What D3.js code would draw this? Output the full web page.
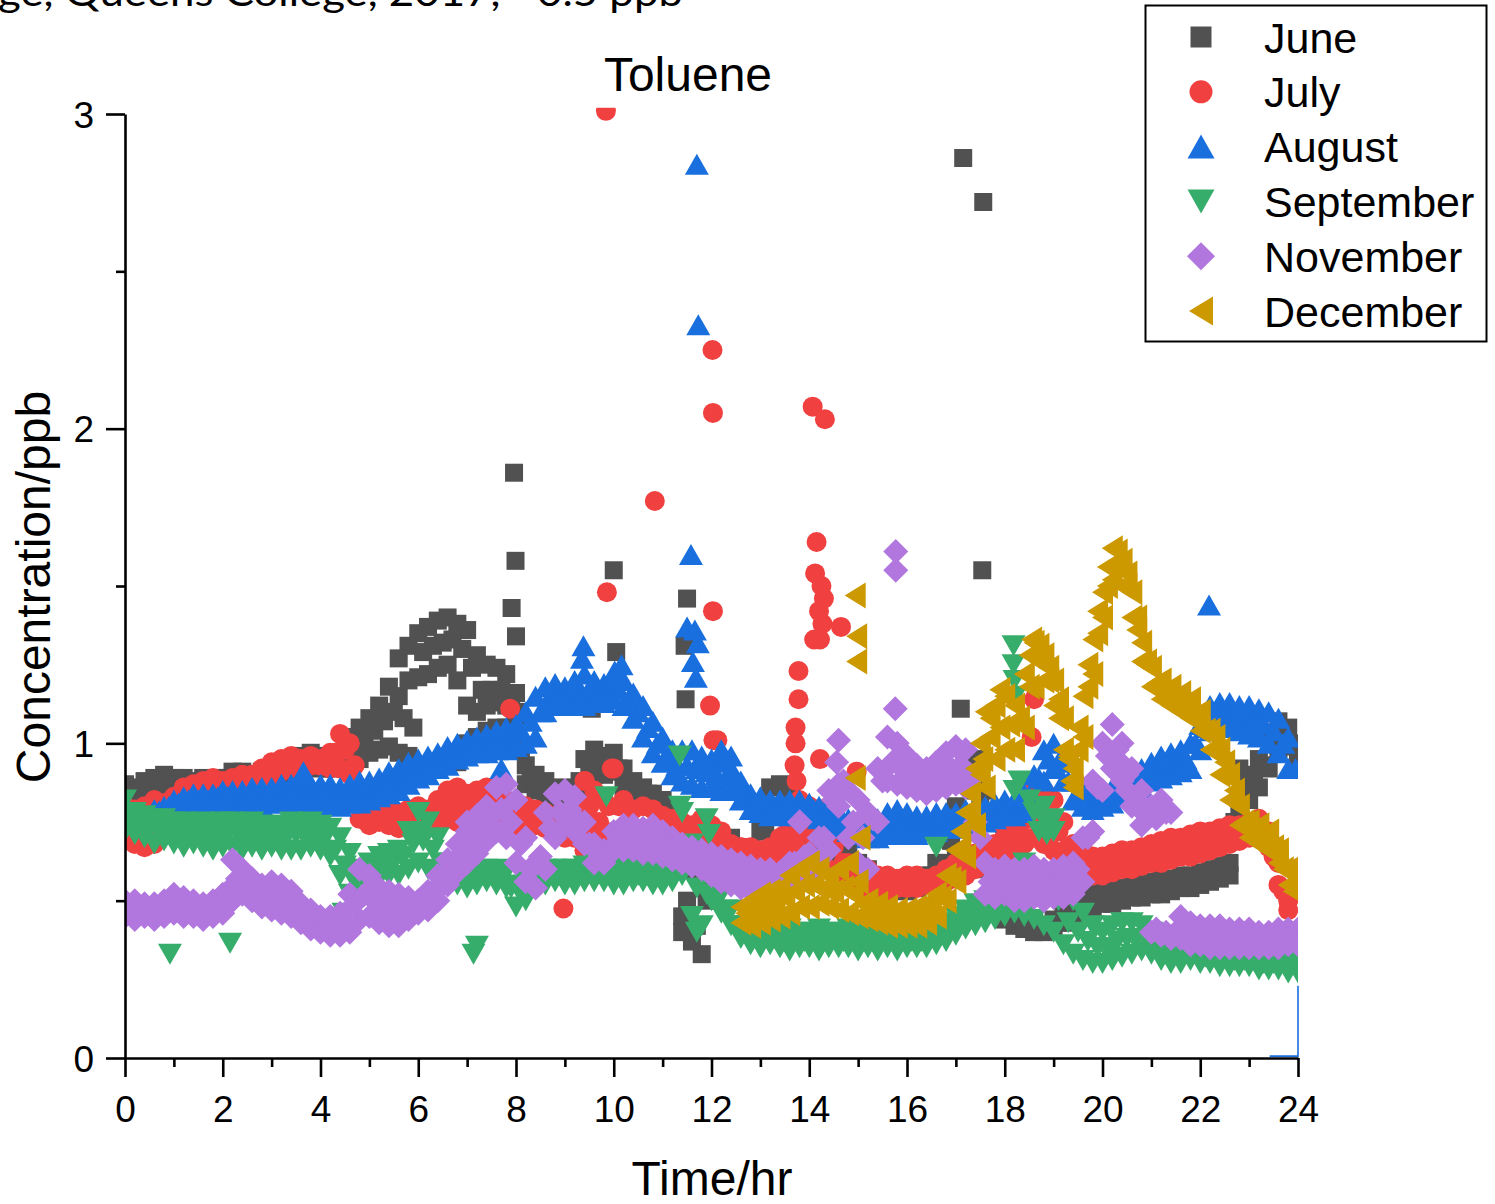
<!DOCTYPE html>
<html>
<head>
<meta charset="utf-8">
<script src="https://cdn.jsdelivr.net/npm/d3@7"></script>
<style>
  html, body { margin: 0; padding: 0; background: #fff; }
  svg { display: block; font-family: "Liberation Sans", Arial, sans-serif; }
</style>
</head>
<body>
<svg id="chart" width="1495" height="1204"></svg>
<script>
// ---- Toluene diurnal profiles (ppb) by month ----
// Each strand: [first hour, readings every STEP hours]
const STEP = 0.2;

const months = ["June", "July", "August", "September", "November", "December"];
const monthColors = ["#515151", "#F14040", "#1A6FDF", "#37AD6B", "#B177DE", "#CC9900"];
const xTicks = [0, 2, 4, 6, 8, 10, 12, 14, 16, 18, 20, 22, 24];
const yTicks = [0, 1, 2, 3];

// ---------- June ----------
const juneUpper = [0, [
  0.87,0.86,0.88,0.89,0.90,0.89,0.89,0.88,0.89,0.88,
  0.89,0.91,0.91,0.90,0.91,0.92,0.93,0.94,0.96,0.97,
  0.96,0.95,0.97,1.02,1.05,1.08,1.12,1.18,1.27,1.31,
  1.35,1.37,1.39,1.40,1.38,1.36,1.28,1.25,1.24,1.22,
  1.16,0.93,0.90,0.88,0.86,0.85,0.86,0.95,0.98,0.96,
  0.97,0.92,0.88,0.86,0.84,0.82,0.80,0.70,0.60,0.58,
  0.62,0.68,0.70,0.66,0.67,0.72,0.86,0.87,0.83,0.80,
  0.78,0.75,0.72,0.70,0.66,0.62,0.60,0.57,0.56,0.56,
  0.55,0.57,0.58,0.62,0.70,0.80,0.88,0.95,0.85,0.55,
  0.48,0.46,0.44,0.43,0.42,0.44,0.46,0.48,0.50,0.53,
  0.53,0.54,0.54,0.55,0.56,0.56,0.57,0.57,0.58,0.58,
  0.59,0.60,0.61,0.62,0.92,0.90,0.95,1.02,1.07,1.05,
  0.98]];
const juneCentre = [0.1, [
  0.85,0.85,0.86,0.86,0.87,0.87,0.87,0.87,0.88,0.88,
  0.89,0.90,0.90,0.90,0.91,0.91,0.92,0.93,0.95,0.95,
  0.94,0.94,0.97,0.99,1.01,1.04,1.07,1.10,1.08,1.05,
  1.29,1.31,1.32,1.33,1.30,1.24,1.17,1.17,1.17,1.14,
  0.98,0.88,0.87,0.85,0.84,0.84,0.88,0.92,0.94,0.93,
  0.92,0.87,0.85,0.84,0.81,0.78,0.62,0.50,0.42,0.50,
  0.62,0.66,0.65,0.64,0.66,0.72,0.77,0.77,0.76,0.75,
  0.73,0.70,0.68,0.66,0.62,0.59,0.57,0.55,0.55,0.55,
  0.55,0.56,0.58,0.62,0.69,0.77,0.87,0.80,0.62,0.48,
  0.45,0.43,0.42,0.41,0.42,0.43,0.45,0.47,0.50,0.51,
  0.51,0.52,0.53,0.53,0.54,0.54,0.55,0.55,0.56,0.57,
  0.57,0.58,0.59,0.75,0.86,0.88,0.93,1.00,1.03,1.00]];
const juneLower = [0, [
  0.84,0.84,0.83,0.83,0.83,0.84,0.86,0.86,0.86,0.87,
  0.87,0.88,0.89,0.88,0.89,0.90,0.90,0.91,0.92,0.93,
  0.92,0.92,0.93,0.94,0.95,0.97,0.98,0.99,0.97,0.96,
  0.92,0.92,0.93,0.93,0.94,1.00,1.02,1.04,1.05,1.05,
  1.05,0.87,0.85,0.84,0.82,0.82,0.83,0.86,0.90,0.90,
  0.91,0.86,0.84,0.83,0.80,0.78,0.72,0.45,0.37,0.33,
  0.55,0.62,0.64,0.60,0.62,0.63,0.66,0.68,0.70,0.72,
  0.70,0.68,0.66,0.64,0.62,0.58,0.56,0.54,0.53,0.54,
  0.53,0.54,0.55,0.56,0.60,0.66,0.75,0.85,0.60,0.47,
  0.44,0.42,0.41,0.40,0.40,0.41,0.43,0.45,0.47,0.48,
  0.49,0.49,0.50,0.51,0.51,0.52,0.52,0.53,0.54,0.54,
  0.55,0.56,0.57,0.58,0.80,0.82,0.86,0.92,0.98,0.99,
  0.93]];
const juneHump = [5.6, [1.15,1.20,1.21,1.22,1.24,1.25,1.20,1.12,1.10,1.12,1.13,1.12,1.10]];
const juneSingles = [
  [7.91,1.43],[7.96,1.86],[7.99,1.58],[8.0,1.34],[9.55,1.11],[10.05,1.29],[10.0,1.55],
  [11.5,1.46],[11.45,1.31],[11.47,1.14],[17.15,2.86],[17.56,2.72],[17.54,1.55],[17.1,1.11],[11.4,0.40]];

// ---------- July ----------
const julyUpper = [0, [
  0.80,0.79,0.80,0.82,0.81,0.83,0.86,0.87,0.88,0.89,
  0.88,0.89,0.90,0.90,0.92,0.94,0.95,0.96,0.95,0.96,
  0.95,0.97,1.03,1.00,0.82,0.78,0.80,0.79,0.78,0.79,
  0.80,0.79,0.82,0.85,0.86,0.84,0.85,0.86,0.84,0.82,
  0.81,0.80,0.79,0.78,0.77,0.76,0.78,0.88,0.85,0.82,
  0.92,0.82,0.79,0.80,0.79,0.77,0.76,0.75,0.74,0.76,
  0.74,0.72,0.68,0.67,0.67,0.66,0.67,0.70,0.71,0.82,
  0.80,0.78,0.80,0.70,0.62,0.60,0.60,0.58,0.58,0.57,
  0.58,0.58,0.57,0.58,0.60,0.62,0.64,0.65,0.66,0.68,
  0.72,0.74,0.80,0.88,0.85,0.82,0.75,0.68,0.66,0.64,
  0.64,0.65,0.66,0.66,0.67,0.68,0.69,0.70,0.70,0.71,
  0.72,0.72,0.73,0.74,0.74,0.75,0.76,0.72,0.62,0.50]];
const julyCentre = [0.1, [
  0.74,0.74,0.74,0.76,0.78,0.82,0.85,0.86,0.87,0.87,
  0.87,0.88,0.88,0.89,0.91,0.92,0.93,0.94,0.94,0.94,
  0.94,0.97,0.98,0.93,0.77,0.77,0.77,0.76,0.76,0.77,
  0.77,0.78,0.80,0.81,0.80,0.80,0.81,0.80,0.79,0.78,
  0.77,0.77,0.76,0.75,0.74,0.73,0.76,0.76,0.75,0.80,
  0.80,0.74,0.72,0.72,0.72,0.72,0.72,0.72,0.71,0.70,
  0.68,0.66,0.65,0.64,0.64,0.64,0.66,0.68,0.70,0.72,
  0.70,0.70,0.67,0.62,0.58,0.57,0.56,0.56,0.55,0.56,
  0.56,0.56,0.56,0.57,0.59,0.60,0.62,0.63,0.65,0.67,
  0.69,0.72,0.76,0.78,0.75,0.72,0.67,0.64,0.62,0.61,
  0.61,0.62,0.63,0.63,0.64,0.65,0.66,0.67,0.67,0.68,
  0.69,0.70,0.71,0.71,0.72,0.73,0.72,0.64,0.53]];
const julyLower = [0, [
  0.70,0.68,0.67,0.68,0.72,0.78,0.82,0.84,0.85,0.86,
  0.86,0.86,0.87,0.87,0.88,0.90,0.91,0.92,0.92,0.93,
  0.93,0.92,0.92,0.90,0.76,0.74,0.75,0.74,0.73,0.74,
  0.74,0.74,0.75,0.76,0.75,0.76,0.77,0.76,0.75,0.74,
  0.73,0.74,0.74,0.73,0.72,0.70,0.70,0.66,0.64,0.70,
  0.72,0.68,0.66,0.65,0.66,0.68,0.69,0.70,0.70,0.66,
  0.65,0.62,0.62,0.62,0.62,0.61,0.62,0.65,0.66,0.66,
  0.64,0.62,0.60,0.58,0.56,0.55,0.54,0.54,0.53,0.54,
  0.54,0.54,0.55,0.55,0.56,0.57,0.58,0.60,0.61,0.63,
  0.65,0.66,0.68,0.70,0.68,0.66,0.64,0.62,0.60,0.58,
  0.58,0.59,0.60,0.60,0.61,0.62,0.62,0.63,0.64,0.64,
  0.65,0.66,0.67,0.68,0.69,0.70,0.70,0.67,0.55,0.47]];
const julySingles = [
  [9.84,3.01],[12.02,2.25],[12.03,2.05],[10.84,1.77],[9.86,1.48],[12.03,1.42],[11.97,1.12],
  [12.04,1.01],[12.12,1.01],[7.88,1.11],[8.97,0.475],[14.07,2.07],[14.32,2.03],[14.15,1.64],
  [14.12,1.54],[14.25,1.50],[14.3,1.46],[14.2,1.42],[14.27,1.38],[14.1,1.33],[14.22,1.33],
  [14.65,1.37],[13.78,1.23],[13.78,1.14],[13.72,1.05],[13.72,1.00],[13.7,0.93],[13.74,0.88],
  [14.22,0.95],[14.97,0.91],[9.41,0.88],[9.96,0.92],[9.5,0.80],[9.62,0.72],[9.31,0.71],
  [10.2,0.71],[12.08,0.72],[12.12,0.65],[18.6,1.14],[18.55,1.02],[12.6,0.67],[13.5,0.71]];

// ---------- August ----------
const augUpper = [0.6, [
  0.79,0.80,0.82,0.83,0.84,0.84,0.84,0.85,0.85,0.85,
  0.86,0.86,0.86,0.87,0.87,0.88,0.87,0.87,0.87,0.86,
  0.87,0.88,0.88,0.89,0.91,0.92,0.94,0.95,0.96,0.97,
  0.99,1.00,1.01,1.02,1.03,1.04,1.05,1.06,1.10,1.15,
  1.18,1.19,1.18,1.20,1.22,1.20,1.19,1.21,1.20,1.16,
  1.12,1.07,1.02,0.98,0.98,0.98,0.96,0.95,0.94,0.92,
  0.88,0.84,0.83,0.82,0.82,0.82,0.82,0.81,0.80,0.80,
  0.78,0.76,0.75,0.74,0.76,0.78,0.79,0.78,0.77,0.77,
  0.78,0.78,0.78,0.79,0.80,0.80,0.81,0.82,0.82,0.84,
  0.90,0.98,1.00,0.96,0.88,0.86,0.85,0.85,0.86,0.88,
  0.90,0.92,0.94,0.96,0.97,0.98,1.00,1.06,1.12,1.13,
  1.13,1.12,1.12,1.11,1.10,1.08,1.02]];
const augCentre = [0.7, [
  0.785,0.80,0.81,0.82,0.82,0.82,0.83,0.83,0.82,0.83,
  0.83,0.83,0.84,0.84,0.84,0.84,0.84,0.84,0.83,0.84,
  0.84,0.85,0.85,0.87,0.88,0.90,0.91,0.93,0.94,0.95,
  0.97,0.98,0.99,1.00,1.00,1.01,1.02,1.04,1.07,1.10,
  1.15,1.16,1.16,1.16,1.17,1.16,1.17,1.17,1.14,1.10,
  1.05,1.00,0.96,0.93,0.93,0.92,0.91,0.90,0.89,0.87,
  0.83,0.81,0.80,0.80,0.80,0.79,0.79,0.79,0.78,0.76,
  0.75,0.74,0.72,0.73,0.74,0.75,0.75,0.74,0.74,0.75,
  0.75,0.76,0.76,0.77,0.77,0.78,0.79,0.79,0.80,0.83,
  0.89,0.95,0.94,0.88,0.84,0.82,0.82,0.83,0.84,0.86,
  0.88,0.90,0.92,0.93,0.94,0.95,1.00,1.05,1.08,1.09,
  1.09,1.08,1.07,1.06,1.04,1.00]];
const augLower = [0.6, [
  0.77,0.78,0.79,0.80,0.80,0.80,0.81,0.81,0.80,0.80,
  0.81,0.80,0.81,0.81,0.80,0.81,0.81,0.80,0.81,0.80,
  0.81,0.81,0.82,0.83,0.84,0.85,0.87,0.89,0.90,0.92,
  0.93,0.95,0.96,0.97,0.97,0.98,0.98,0.99,1.00,1.02,
  1.10,1.12,1.13,1.12,1.12,1.13,1.13,1.14,1.12,1.08,
  1.02,0.97,0.94,0.90,0.88,0.87,0.86,0.86,0.85,0.85,
  0.82,0.79,0.78,0.77,0.78,0.77,0.77,0.77,0.76,0.75,
  0.73,0.72,0.71,0.70,0.70,0.71,0.72,0.71,0.71,0.72,
  0.72,0.73,0.73,0.74,0.74,0.75,0.76,0.77,0.77,0.78,
  0.80,0.88,0.92,0.88,0.82,0.80,0.79,0.80,0.81,0.83,
  0.85,0.86,0.88,0.89,0.90,0.91,0.92,0.98,1.04,1.05,
  1.05,1.04,1.03,1.02,1.00,0.97,0.92]];
const augSingles = [
  [11.70,2.84],[11.73,2.33],[11.58,1.60],[22.18,1.44],[11.5,1.37],[11.66,1.36],[11.72,1.32],
  [11.62,1.26],[11.68,1.21],[3.65,0.91],[7.7,0.92],[9.38,1.31],[9.35,1.27],[10.16,1.25],
  [10.02,1.23],[23.95,0.92],[12.2,0.98],[12.4,0.96]];
// stray trace segment logged at the end of the day
const augTail = [[23.42, 0.006], [24, 0.006], [24, 0.23]];

// ---------- September ----------
const sepUpper = [0, [
  0.82,0.78,0.77,0.76,0.76,0.75,0.75,0.74,0.75,0.74,
  0.75,0.75,0.74,0.75,0.74,0.74,0.74,0.75,0.74,0.75,
  0.74,0.73,0.70,0.65,0.60,0.62,0.64,0.65,0.66,0.72,
  0.78,0.75,0.70,0.62,0.60,0.59,0.59,0.60,0.60,0.59,
  0.55,0.56,0.59,0.60,0.60,0.60,0.60,0.61,0.62,0.62,
  0.61,0.60,0.61,0.61,0.60,0.60,0.62,0.78,0.68,0.60,
  0.56,0.52,0.47,0.42,0.42,0.41,0.41,0.40,0.41,0.40,
  0.40,0.41,0.40,0.40,0.41,0.40,0.40,0.39,0.39,0.39,
  0.40,0.39,0.40,0.41,0.43,0.45,0.47,0.49,0.50,0.50,
  0.52,0.85,0.62,0.78,0.80,0.72,0.58,0.50,0.46,0.42,
  0.40,0.42,0.43,0.43,0.42,0.40,0.37,0.36,0.35,0.35,
  0.35,0.34,0.34,0.34,0.34,0.33,0.33,0.33,0.33,0.33,
  0.32]];
const sepCentre = [0.1, [
  0.76,0.74,0.73,0.72,0.72,0.71,0.71,0.71,0.71,0.70,
  0.71,0.71,0.70,0.71,0.70,0.70,0.70,0.71,0.70,0.71,
  0.70,0.66,0.61,0.56,0.56,0.59,0.61,0.62,0.64,0.68,
  0.69,0.66,0.62,0.58,0.57,0.57,0.58,0.58,0.57,0.54,
  0.52,0.55,0.57,0.58,0.58,0.58,0.58,0.59,0.59,0.59,
  0.58,0.58,0.58,0.58,0.58,0.58,0.64,0.62,0.54,0.52,
  0.51,0.47,0.42,0.40,0.38,0.38,0.38,0.37,0.38,0.37,
  0.38,0.37,0.38,0.37,0.38,0.37,0.37,0.37,0.37,0.37,
  0.37,0.37,0.38,0.39,0.41,0.43,0.45,0.46,0.47,0.48,
  0.49,0.55,0.52,0.72,0.74,0.50,0.43,0.40,0.37,0.35,
  0.35,0.37,0.38,0.38,0.38,0.35,0.33,0.33,0.33,0.33,
  0.32,0.32,0.32,0.31,0.31,0.31,0.30,0.30,0.30,0.30]];
const sepLower = [0, [
  0.72,0.71,0.70,0.68,0.69,0.68,0.67,0.68,0.67,0.66,
  0.67,0.67,0.66,0.67,0.66,0.67,0.66,0.66,0.66,0.67,
  0.66,0.64,0.58,0.52,0.50,0.55,0.57,0.58,0.58,0.60,
  0.62,0.60,0.58,0.56,0.55,0.54,0.55,0.56,0.55,0.54,
  0.48,0.50,0.54,0.55,0.56,0.55,0.55,0.56,0.56,0.56,
  0.55,0.55,0.56,0.56,0.55,0.55,0.56,0.58,0.45,0.42,
  0.50,0.46,0.42,0.38,0.36,0.35,0.36,0.35,0.34,0.35,
  0.35,0.34,0.35,0.35,0.35,0.34,0.35,0.34,0.35,0.34,
  0.35,0.35,0.35,0.36,0.37,0.39,0.41,0.42,0.43,0.44,
  0.45,0.46,0.45,0.44,0.42,0.40,0.36,0.33,0.31,0.30,
  0.30,0.31,0.32,0.33,0.34,0.33,0.31,0.30,0.30,0.31,
  0.30,0.30,0.29,0.29,0.29,0.29,0.28,0.28,0.28,0.27,
  0.27]];
const sepSingles = [
  [0.92,0.33],[2.15,0.365],[7.13,0.33],[7.2,0.355],[4.47,0.46],[9.85,0.83],[11.35,0.96],
  [11.35,0.80],[11.9,0.76],[11.95,0.71],[6.05,0.72],[18.18,1.31],[18.18,1.25],[18.2,1.20],
  [18.22,1.15],[18.72,0.78],[18.86,0.71],[16.6,0.67],[18.3,0.88],[18.5,0.82],[19.0,0.76],[11.7,0.40]];

// ---------- November ----------
const novUpper = [0, [
  0.50,0.50,0.49,0.49,0.50,0.52,0.51,0.50,0.49,0.50,
  0.52,0.63,0.60,0.57,0.55,0.56,0.55,0.53,0.49,0.47,
  0.45,0.45,0.46,0.52,0.60,0.58,0.54,0.53,0.52,0.51,
  0.50,0.53,0.58,0.63,0.68,0.72,0.77,0.80,0.86,0.87,
  0.82,0.70,0.62,0.78,0.84,0.85,0.83,0.75,0.68,0.66,
  0.72,0.74,0.74,0.73,0.74,0.72,0.70,0.68,0.67,0.66,
  0.65,0.64,0.63,0.62,0.61,0.60,0.60,0.59,0.62,0.75,
  0.65,0.70,0.85,1.01,0.85,0.82,0.78,0.92,1.02,1.00,
  0.96,0.93,0.92,0.94,0.97,0.99,0.98,0.90,0.62,0.60,
  0.61,0.60,0.60,0.61,0.60,0.60,0.61,0.62,0.70,0.88,
  1.00,1.06,1.00,0.92,0.85,0.80,0.82,0.78,0.45,0.43,
  0.42,0.42,0.42,0.41,0.41,0.41,0.40,0.40,0.41,0.41,
  0.41]];
const novCentre = [0.1, [
  0.47,0.47,0.47,0.47,0.48,0.49,0.48,0.47,0.47,0.48,
  0.53,0.57,0.55,0.52,0.51,0.51,0.50,0.47,0.45,0.43,
  0.42,0.42,0.44,0.49,0.52,0.50,0.48,0.47,0.47,0.47,
  0.49,0.52,0.56,0.61,0.65,0.69,0.73,0.77,0.79,0.75,
  0.68,0.60,0.64,0.73,0.78,0.79,0.75,0.68,0.65,0.66,
  0.70,0.70,0.70,0.70,0.69,0.67,0.66,0.65,0.64,0.62,
  0.61,0.60,0.59,0.58,0.57,0.57,0.57,0.58,0.62,0.64,
  0.63,0.70,0.82,0.88,0.75,0.70,0.76,0.88,0.94,0.92,
  0.90,0.89,0.88,0.90,0.92,0.93,0.90,0.70,0.56,0.56,
  0.56,0.55,0.56,0.56,0.55,0.56,0.56,0.60,0.70,0.86,
  0.96,0.98,0.90,0.82,0.77,0.41,0.40,0.40,0.40,0.39,
  0.39,0.38,0.38,0.38,0.38,0.38,0.38,0.38,0.38,0.38]];
const novLower = [0, [
  0.45,0.44,0.45,0.44,0.45,0.46,0.45,0.45,0.44,0.45,
  0.46,0.50,0.52,0.50,0.48,0.47,0.46,0.45,0.43,0.41,
  0.40,0.39,0.39,0.40,0.44,0.45,0.43,0.42,0.42,0.44,
  0.46,0.47,0.50,0.55,0.59,0.62,0.65,0.69,0.72,0.70,
  0.62,0.56,0.54,0.60,0.70,0.74,0.72,0.68,0.62,0.62,
  0.66,0.66,0.66,0.65,0.65,0.64,0.63,0.62,0.61,0.60,
  0.58,0.56,0.55,0.54,0.53,0.53,0.54,0.55,0.56,0.58,
  0.58,0.60,0.66,0.80,0.70,0.62,0.60,0.75,0.88,0.87,
  0.86,0.85,0.84,0.85,0.86,0.87,0.86,0.75,0.52,0.51,
  0.52,0.50,0.50,0.51,0.50,0.51,0.51,0.52,0.56,0.72,
  0.85,0.92,0.88,0.80,0.74,0.40,0.39,0.38,0.38,0.36,
  0.36,0.35,0.35,0.35,0.35,0.35,0.35,0.35,0.35,0.36,
  0.36]];
const novSingles = [
  [15.77,1.61],[15.77,1.55],[15.76,1.11],[13.81,0.75],[14.56,0.94],[14.6,0.87],
  [7.0,0.75],[20.3,0.95],[20.5,0.85],[21.1,0.76],[21.3,0.78]];

// ---------- December ----------
const decUpper = [12.6, [
  0.48,0.50,0.52,0.53,0.54,0.58,0.60,0.62,0.60,0.58,
  0.60,0.62,0.56,0.50,0.49,0.48,0.47,0.47,0.48,0.49,
  0.52,0.58,0.66,0.78,0.92,1.10,1.12,1.15,1.12,1.22,
  1.32,1.28,1.20,1.08,0.92,1.15,1.33,1.48,1.62,1.58,
  1.48,1.32,1.24,1.20,1.18,1.16,1.14,1.10,1.04,0.98,
  0.90,0.80,0.75,0.74,0.72,0.66,0.60]];
const decCentre = [12.7, [
  0.46,0.47,0.48,0.49,0.51,0.53,0.55,0.55,0.54,0.53,
  0.54,0.52,0.49,0.47,0.45,0.45,0.44,0.45,0.45,0.47,
  0.51,0.57,0.66,0.78,0.90,1.02,1.05,1.06,1.08,1.18,
  1.26,1.20,1.08,0.95,0.98,1.18,1.35,1.50,1.57,1.50,
  1.36,1.25,1.19,1.16,1.14,1.12,1.09,1.04,0.98,0.90,
  0.82,0.75,0.72,0.70,0.67,0.60]];
const decLower = [12.6, [
  0.43,0.42,0.43,0.44,0.45,0.46,0.48,0.48,0.49,0.48,
  0.47,0.46,0.45,0.44,0.43,0.42,0.42,0.42,0.42,0.43,
  0.45,0.50,0.56,0.64,0.74,0.86,0.95,0.98,0.98,1.05,
  1.18,1.20,1.12,0.98,0.86,1.02,1.22,1.40,1.52,1.50,
  1.40,1.26,1.18,1.14,1.12,1.10,1.08,1.04,0.98,0.90,
  0.82,0.74,0.70,0.68,0.66,0.62,0.55]];
const decSingles = [
  [17.1,0.72],[17.3,0.84],[17.5,1.0],[17.55,0.95],[17.7,1.08],[17.9,1.17],[18.5,1.28],
  [18.7,1.31],[18.9,1.24],[19.1,1.14],[19.3,0.96],[19.35,0.88],[19.5,1.05],[19.7,1.25],
  [19.9,1.42],[20.1,1.56],[20.3,1.61],[20.5,1.54],[20.7,1.40],[20.9,1.26],[22.3,1.02],
  [22.5,0.94],[22.7,0.85],[14.94,1.47],[14.97,1.34],[14.97,1.26],[14.94,0.89],[15.04,0.70],
  [18.55,1.33],[23.9,0.53]];

// ---- marker shapes (w, h in px) ----
const shapes = {
  square:  (w) => `M${-w/2},${-w/2}h${w}v${w}h${-w}Z`,
  circle:  (w) => `M${-w/2},0a${w/2},${w/2} 0 1,0 ${w},0a${w/2},${w/2} 0 1,0 ${-w},0Z`,
  up:      (w, h) => `M0,${-h/2}L${w/2},${h/2}L${-w/2},${h/2}Z`,
  down:    (w, h) => `M0,${h/2}L${w/2},${-h/2}L${-w/2},${-h/2}Z`,
  diamond: (w, h) => `M0,${-h/2}L${w/2},0L0,${h/2}L${-w/2},0Z`,
  left:    (w, h) => `M${-w/2},0L${w/2},${-h/2}L${w/2},${h/2}Z`
};

const expand = ([t0, vals]) => vals.map((v, i) => [Math.round((t0 + i * STEP) * 100) / 100, v]);
const gather = (strands, singles) => [...strands.flatMap(expand), ...singles];

const series = [
  { name: months[0], color: monthColors[0], shape: "square",  w: 18, h: 18, lw: 21, lh: 21,
    points: gather([juneUpper, juneCentre, juneLower, juneHump], juneSingles) },
  { name: months[1], color: monthColors[1], shape: "circle",  w: 20, h: 20, lw: 23, lh: 23,
    points: gather([julyUpper, julyCentre, julyLower], julySingles) },
  { name: months[2], color: monthColors[2], shape: "up",      w: 24, h: 21, lw: 27, lh: 24,
    points: gather([augUpper, augCentre, augLower], augSingles) },
  { name: months[3], color: monthColors[3], shape: "down",    w: 24, h: 21, lw: 27, lh: 24,
    points: gather([sepUpper, sepCentre, sepLower], sepSingles) },
  { name: months[4], color: monthColors[4], shape: "diamond", w: 25, h: 25, lw: 28, lh: 28,
    points: gather([novUpper, novCentre, novLower], novSingles) },
  { name: months[5], color: monthColors[5], shape: "left",    w: 21, h: 26, lw: 24, lh: 29,
    points: gather([decUpper, decCentre, decLower], decSingles) }
];

// ---- layout ----
const svg = d3.select("#chart");
const x = d3.scaleLinear().domain([0, 24]).range([125, 1298]);
const y = d3.scaleLinear().domain([0, 3]).range([1058, 114]);

svg.append("defs").append("clipPath").attr("id", "plotClip")
  .append("rect")
  .attr("x", x(0)).attr("y", y(3.02))
  .attr("width", x(24) - x(0)).attr("height", y(0) - y(3.02));

// caption line running off the top of the page
svg.append("text")
  .attr("x", -2).attr("y", 6)
  .attr("textLength", 685).attr("lengthAdjust", "spacingAndGlyphs")
  .style("font-family", "Lato, 'Open Sans', sans-serif")
  .style("font-size", "38px")
  .text("ge, Queens College, 2017, ~0.5 ppb");

// ---- markers ----
const plot = svg.append("g").attr("clip-path", "url(#plotClip)");
series.forEach(s => {
  plot.append("g")
    .attr("fill", s.color)
    .selectAll("path")
    .data(s.points)
    .join("path")
    .attr("transform", d => `translate(${x(d[0])},${y(d[1])})`)
    .attr("d", shapes[s.shape](s.w, s.h));
});

svg.append("path")
  .datum(augTail)
  .attr("fill", "none")
  .attr("stroke", monthColors[2])
  .attr("stroke-width", 1.6)
  .attr("d", d3.line().x(d => x(d[0])).y(d => y(d[1])));

// ---- axes ----
const axisStyle = g => {
  g.select(".domain").attr("stroke", "#000").attr("stroke-width", 2.6);
  g.selectAll(".tick line").attr("stroke", "#000").attr("stroke-width", 2.6);
  g.selectAll("text").attr("fill", "#000")
    .style("font-family", "'Liberation Sans', Arial, sans-serif")
    .style("font-size", "37px");
};

const xMinor = svg.append("g").attr("transform", `translate(0,${y(0)})`)
  .call(d3.axisBottom(x).tickValues(d3.range(1, 24, 2)).tickSize(9).tickSizeOuter(0).tickFormat(""));
xMinor.select(".domain").remove();
xMinor.selectAll(".tick line").attr("stroke", "#000").attr("stroke-width", 2.6);

const yMinor = svg.append("g").attr("transform", `translate(${x(0)},0)`)
  .call(d3.axisLeft(y).tickValues([0.5, 1.5, 2.5]).tickSize(9).tickSizeOuter(0).tickFormat(""));
yMinor.select(".domain").remove();
yMinor.selectAll(".tick line").attr("stroke", "#000").attr("stroke-width", 2.6);

const xAxis = svg.append("g").attr("transform", `translate(0,${y(0)})`)
  .call(d3.axisBottom(x).tickValues(xTicks).tickSize(19).tickSizeOuter(0).tickFormat(d3.format("d")))
  .call(axisStyle);
xAxis.selectAll("text").attr("y", 64).attr("dy", 0);

const yAxis = svg.append("g").attr("transform", `translate(${x(0)},0)`)
  .call(d3.axisLeft(y).tickValues(yTicks).tickSize(19).tickSizeOuter(0).tickFormat(d3.format("d")))
  .call(axisStyle);
yAxis.selectAll("text").attr("x", -31).attr("dy", "0.36em");

// ---- titles ----
svg.append("text")
  .attr("x", 688).attr("y", 91)
  .attr("text-anchor", "middle")
  .style("font-size", "48px")
  .text("Toluene");

svg.append("text")
  .attr("x", 712).attr("y", 1195)
  .attr("text-anchor", "middle")
  .style("font-size", "48px")
  .text("Time/hr");

svg.append("text")
  .attr("transform", "translate(50,587) rotate(-90)")
  .attr("text-anchor", "middle")
  .style("font-size", "48px")
  .text("Concentration/ppb");

// ---- legend ----
const legend = svg.append("g");
legend.append("rect")
  .attr("x", 1145.5).attr("y", 5.5)
  .attr("width", 341).attr("height", 336)
  .attr("fill", "#fff").attr("stroke", "#000").attr("stroke-width", 2);

series.forEach((s, i) => {
  const rowY = 37 + i * 54.8;
  legend.append("path")
    .attr("transform", `translate(1201,${rowY})`)
    .attr("fill", s.color)
    .attr("d", shapes[s.shape](s.lw, s.lh));
  legend.append("text")
    .attr("x", 1264).attr("y", rowY + 15.5)
    .style("font-size", "43px")
    .text(s.name);
});
</script>
</body>
</html>
